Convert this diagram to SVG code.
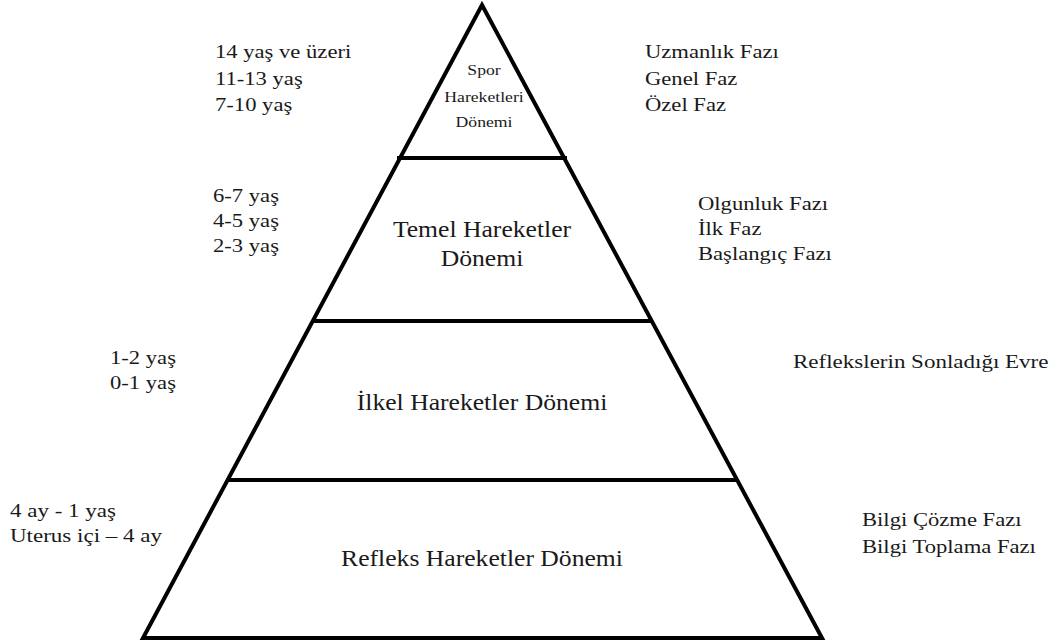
<svg xmlns="http://www.w3.org/2000/svg" width="1060" height="644" viewBox="0 0 1060 644">
<style>
text{font-family:"Liberation Serif","Times New Roman",serif;fill:#1a1a1a}
.side{font-size:19.5px}
.main{font-size:22.5px;text-anchor:middle}
.small{font-size:15.5px;text-anchor:middle}
.ln{stroke:#000;stroke-width:4;fill:none}
</style>
<rect width="1060" height="644" fill="#fff"/>
<g id="pyramid">
<polygon class="ln" points="482,5 822,638 143,638" stroke-linejoin="miter"/>
</g>
<g id="connectors">
<line class="ln" x1="397" y1="158" x2="567" y2="158"/>
<line class="ln" x1="313" y1="321" x2="652" y2="321"/>
<line class="ln" x1="227" y1="480" x2="737" y2="480"/>
</g>
<g id="spor">
<text class="small" transform="translate(484,75) scale(1.14,1)">Spor</text>
<text class="small" transform="translate(484,102) scale(1.14,1)">Hareketleri</text>
<text class="small" transform="translate(484,127) scale(1.14,1)">Dönemi</text>
</g>
<g id="spor-left">
<text class="side" transform="translate(215,58) scale(1.16,1)">14 yaş ve üzeri</text>
<text class="side" transform="translate(215,85) scale(1.16,1)">11-13 yaş</text>
<text class="side" transform="translate(215,111) scale(1.16,1)">7-10 yaş</text>
</g>
<g id="spor-right">
<text class="side" transform="translate(645,58) scale(1.16,1)">Uzmanlık Fazı</text>
<text class="side" transform="translate(645,85) scale(1.16,1)">Genel Faz</text>
<text class="side" transform="translate(645,111) scale(1.16,1)">Özel Faz</text>
</g>
<g id="temel">
<text class="main" transform="translate(482,237) scale(1.14,1)">Temel Hareketler</text>
<text class="main" transform="translate(482,266) scale(1.14,1)">Dönemi</text>
</g>
<g id="temel-left">
<text class="side" transform="translate(213,202) scale(1.16,1)">6-7 yaş</text>
<text class="side" transform="translate(213,227) scale(1.16,1)">4-5 yaş</text>
<text class="side" transform="translate(213,252) scale(1.16,1)">2-3 yaş</text>
</g>
<g id="temel-right">
<text class="side" transform="translate(698,210) scale(1.16,1)">Olgunluk Fazı</text>
<text class="side" transform="translate(698,235) scale(1.16,1)">İlk Faz</text>
<text class="side" transform="translate(698,260) scale(1.16,1)">Başlangıç Fazı</text>
</g>
<g id="ilkel">
<text class="main" transform="translate(482,410) scale(1.14,1)">İlkel Hareketler Dönemi</text>
</g>
<g id="ilkel-left">
<text class="side" transform="translate(110,364) scale(1.16,1)">1-2 yaş</text>
<text class="side" transform="translate(110,389) scale(1.16,1)">0-1 yaş</text>
</g>
<g id="ilkel-right">
<text class="side" transform="translate(793,368) scale(1.18,1)">Reflekslerin Sonladığı Evre</text>
</g>
<g id="refleks">
<text class="main" transform="translate(482,566) scale(1.14,1)">Refleks Hareketler Dönemi</text>
</g>
<g id="refleks-left">
<text class="side" transform="translate(10,517) scale(1.18,1)">4 ay - 1 yaş</text>
<text class="side" transform="translate(10,542) scale(1.18,1)">Uterus içi – 4 ay</text>
</g>
<g id="refleks-right">
<text class="side" transform="translate(862,526) scale(1.16,1)">Bilgi Çözme Fazı</text>
<text class="side" transform="translate(862,553) scale(1.16,1)">Bilgi Toplama Fazı</text>
</g>
</svg>
